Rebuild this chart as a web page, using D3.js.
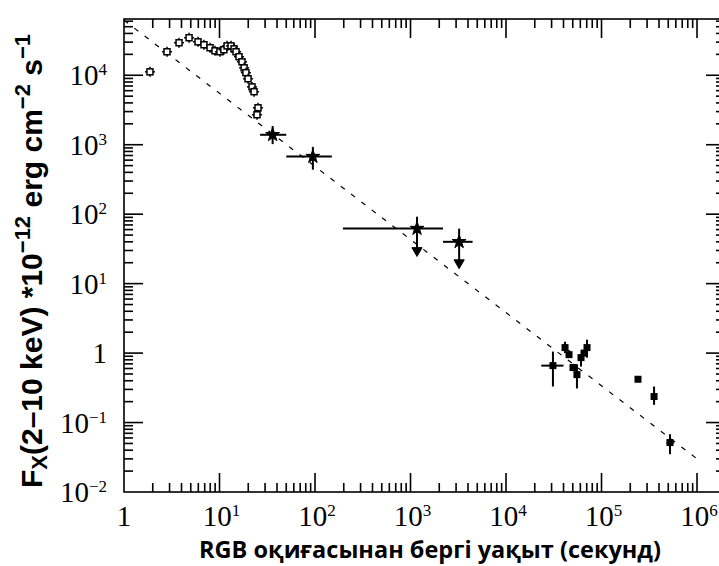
<!DOCTYPE html>
<html>
<head>
<meta charset="utf-8">
<script src="https://cdn.jsdelivr.net/npm/d3@7"></script>
<style>
  body { margin: 0; background: #fff; }
  text { fill: #000; }
</style>
</head>
<body>
<script>
// tick values (major decades)
var xTicks = [1, 1e1, 1e2, 1e3, 1e4, 1e5, 1e6],
    yTicks = [1e-2, 1e-1, 1, 1e1, 1e2, 1e3, 1e4];

// early prompt data (open markers): time (s), flux
var earlyT = [1.87, 2.82, 3.77, 4.80, 5.96, 6.88, 7.96, 8.97, 10.1, 11.1, 12.0, 13.2,
              14.2, 14.9, 16.0, 17.2, 18.1, 18.9, 19.9, 21.9, 23.0, 25.3, 24.7];
var earlyF = [11200, 21800, 29400, 34700, 30300, 27500, 24900, 22500, 21800, 23300, 26500, 26500,
              24000, 21800, 18500, 15600, 12800, 10900, 8900, 6800, 5800, 3400, 2700];

// mid data with time and flux ranges; upper = flux is an upper limit
var midT    = [36, 95, 1170, 3230],
    midTLo  = [26.6, 50, 196, 2190],
    midTHi  = [50, 150, 2190, 4470],
    midF    = [1390, 674, 62, 40],
    midFLo  = [1020, 437, 28, 18.7],
    midFHi  = [1860, 930, 92, 62],
    midUpper = [false, false, true, true];

// late data (filled squares)
var lateT   = [31000, 41500, 45700, 50300, 55300, 61000, 65600, 70500, 241000, 355000, 521000],
    lateTLo = [23400, 41500, 45700, 50300, 55300, 61000, 65600, 70500, 241000, 355000, 479000],
    lateTHi = [40000, 41500, 45700, 50300, 55300, 61000, 65600, 70500, 241000, 355000, 575000],
    lateF   = [0.66, 1.2, 0.95, 0.62, 0.49, 0.86, 1.0, 1.2, 0.42, 0.237, 0.0515],
    lateFLo = [0.33, 1.0, 0.85, 0.55, 0.31, 0.64, 0.9, 0.86, 0.42, 0.18, 0.035],
    lateFHi = [1.05, 1.46, 1.1, 0.7, 0.69, 0.95, 1.1, 1.56, 0.42, 0.33, 0.068];

// power-law decay model
var fitT = [1, 1e6],
    fitF = [62000, 0.03];

var width = 719, height = 566,
    pLeft = 124, pRight = 725, pTop = 19, pBottom = 492;

var svg = d3.select('body').append('svg')
    .attr('width', width)
    .attr('height', height);

var x = d3.scaleLog().domain([1, Math.pow(10, 6.293)]).range([pLeft, pRight]),
    y = d3.scaleLog().domain([0.01, Math.pow(10, 4.81)]).range([pBottom, pTop]);

svg.append('clipPath').attr('id', 'plot')
    .append('rect')
    .attr('x', pLeft).attr('y', pTop)
    .attr('width', pRight - pLeft).attr('height', pBottom - pTop);

// frame
svg.append('rect')
    .attr('x', pLeft).attr('y', pTop)
    .attr('width', pRight - pLeft).attr('height', pBottom - pTop)
    .attr('fill', 'none')
    .attr('stroke', '#000')
    .attr('stroke-width', 1.6);

var isMajor = function(v) {
    var e = Math.log10(v);
    return Math.abs(e - Math.round(e)) < 1e-9;
};

var ticks = svg.append('g').attr('stroke', '#000').attr('stroke-width', 1.6);

x.ticks().forEach(function(v) {
    var px = x(v), len = isMajor(v) ? 19 : 9;
    if (px <= pLeft + 0.5 || px >= pRight - 0.5) return;
    ticks.append('line').attr('x1', px).attr('x2', px).attr('y1', pBottom).attr('y2', pBottom - len);
    ticks.append('line').attr('x1', px).attr('x2', px).attr('y1', pTop).attr('y2', pTop + len);
});

y.ticks().forEach(function(v) {
    var py = y(v), len = isMajor(v) ? 19 : 9;
    if (py <= pTop + 0.5 || py >= pBottom - 0.5) return;
    ticks.append('line').attr('y1', py).attr('y2', py).attr('x1', pLeft).attr('x2', pLeft + len);
    ticks.append('line').attr('y1', py).attr('y2', py).attr('x1', pRight).attr('x2', pRight - len);
});

// tick labels
var tickLabel = function(sel, v) {
    var e = Math.round(Math.log10(v));
    if (e === 0) {
        sel.text('1');
        return;
    }
    sel.append('tspan').text('10');
    sel.append('tspan')
        .attr('dy', -10)
        .style('font-size', '17px')
        .text(e < 0 ? '\u2212' + (-e) : e);
};

var labels = svg.append('g')
    .style('font-family', '"Liberation Serif", "DejaVu Serif", serif')
    .style('font-size', '29px');

xTicks.forEach(function(v) {
    labels.append('text')
        .attr('x', x(v) + (v === 1 ? 0 : 2))
        .attr('y', 526)
        .attr('text-anchor', 'middle')
        .call(tickLabel, v);
});

yTicks.forEach(function(v) {
    labels.append('text')
        .attr('x', 107)
        .attr('y', y(v) + 10)
        .attr('text-anchor', 'end')
        .call(tickLabel, v);
});

// axis titles
svg.append('text')
    .attr('x', 430)
    .attr('y', 558)
    .attr('text-anchor', 'middle')
    .style('font-family', '"Open Sans", "Noto Sans", sans-serif')
    .style('font-weight', 700)
    .style('font-size', '23.5px')
    .text('RGB оқиғасынан бергі уақыт (секунд)');

var ytitle = svg.append('text')
    .attr('transform', 'translate(42,261) rotate(-90)')
    .attr('text-anchor', 'middle')
    .style('font-family', '"Liberation Sans", Arial, sans-serif')
    .style('font-weight', 700)
    .style('font-size', '30px');
ytitle.append('tspan').text('F');
ytitle.append('tspan').attr('dy', 5).style('font-size', '22px').text('X');
ytitle.append('tspan').attr('dy', -5).text('(2\u201310 keV) *10');
ytitle.append('tspan').attr('dy', -12).style('font-size', '22px').text('\u221212');
ytitle.append('tspan').attr('dy', 12).text(' erg cm');
ytitle.append('tspan').attr('dy', -12).style('font-size', '22px').text('\u22122');
ytitle.append('tspan').attr('dy', 12).text(' s');
ytitle.append('tspan').attr('dy', -12).style('font-size', '22px').text('\u22121');

var plot = svg.append('g').attr('clip-path', 'url(#plot)');

// model line
plot.append('path')
    .attr('d', d3.line().x(function(d) { return x(d[0]); }).y(function(d) { return y(d[1]); })(d3.zip(fitT, fitF)))
    .attr('fill', 'none')
    .attr('stroke', '#000')
    .attr('stroke-width', 1.2)
    .attr('stroke-dasharray', '5,8');

// early points: small open squares with short bars
var early = plot.append('g').attr('stroke', '#000').attr('stroke-width', 1.5).attr('fill', '#fff');
earlyT.forEach(function(t, i) {
    var px = x(t), py = y(earlyF[i]);
    early.append('line').attr('x1', px - 5).attr('x2', px + 5).attr('y1', py).attr('y2', py);
    early.append('line').attr('x1', px).attr('x2', px).attr('y1', py - 5).attr('y2', py + 5);
    early.append('rect').attr('x', px - 3).attr('y', py - 3).attr('width', 6).attr('height', 6);
});

// mid points
var mid = plot.append('g').attr('stroke', '#000').attr('stroke-width', 2);
var star = d3.symbol().type(d3.symbolStar).size(60);
var tri = d3.symbol().type(d3.symbolTriangle).size(45);
midT.forEach(function(t, i) {
    var px = x(t), py = y(midF[i]);
    mid.append('line').attr('x1', x(midTLo[i])).attr('x2', x(midTHi[i])).attr('y1', py).attr('y2', py);
    mid.append('line').attr('x1', px).attr('x2', px).attr('y1', y(midFHi[i])).attr('y2', y(midFLo[i]));
    mid.append('path').attr('d', star()).attr('transform', 'translate(' + px + ',' + py + ')').attr('fill', '#000').attr('stroke-width', 1);
    if (midUpper[i]) {
        mid.append('path').attr('d', tri())
            .attr('transform', 'translate(' + px + ',' + (y(midFLo[i]) - 2) + ') rotate(180)')
            .attr('fill', '#000').attr('stroke-width', 1);
    }
});

// late points: filled squares
var late = plot.append('g').attr('stroke', '#000').attr('stroke-width', 2);
lateT.forEach(function(t, i) {
    var px = x(t), py = y(lateF[i]);
    late.append('line').attr('x1', x(lateTLo[i])).attr('x2', x(lateTHi[i])).attr('y1', py).attr('y2', py);
    late.append('line').attr('x1', px).attr('x2', px).attr('y1', y(lateFHi[i])).attr('y2', y(lateFLo[i]));
    late.append('rect').attr('x', px - 3.5).attr('y', py - 3.5).attr('width', 7).attr('height', 7)
        .attr('fill', '#000').attr('stroke-width', 0);
});
</script>
</body>
</html>
